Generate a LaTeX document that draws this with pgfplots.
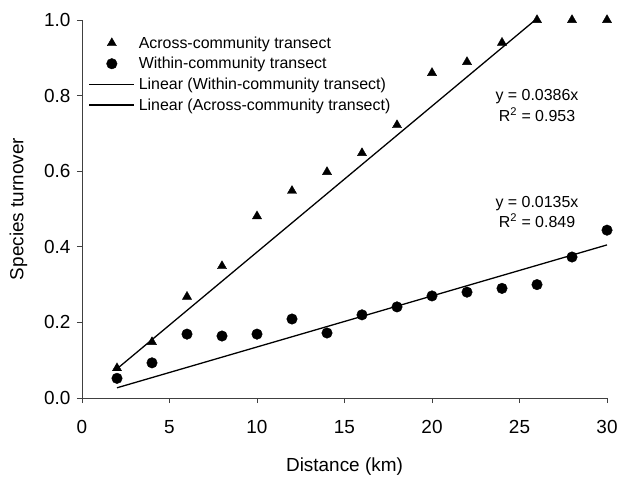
\documentclass[border=0pt]{standalone}
\usepackage{pgfplots}
\pgfplotsset{compat=1.18}
\usepackage{fontspec}
\setmainfont{Liberation Sans}
\begin{document}
\begin{tikzpicture}
\path[use as bounding box] (-82bp,-86bp) rectangle (537bp,398bp);
\begin{axis}[
  at={(0,0)}, anchor=origin,
  scale only axis, width=525bp, height=378bp,
  xmin=0, xmax=30, ymin=0, ymax=1.0,
  axis x line*=bottom, axis y line*=left,
  axis line style={-, line width=0.7pt, black!75},
  tick style={black!75, line width=0.7pt},
  tick align=outside, major tick length=5bp,
  xtick={0,5,...,30}, ytick={0,0.2,...,1.0},
  yticklabel style={xshift=-3bp},
  y tick label style={/pgf/number format/.cd, fixed, fixed zerofill, precision=1},
  /pgf/number format/assume math mode=true,
  ticklabel style={font=\fontsize{19}{21}\selectfont},
  xticklabel style={yshift=-14bp},
  xlabel={Distance (km)}, ylabel={Species turnover},
  label style={font=\fontsize{19}{21}\selectfont},
  xlabel style={yshift=-17bp},
  ylabel style={yshift=10bp},
  clip=false,
  legend cell align=left,
  legend image code/.code={\draw[mark repeat=2,mark phase=2,#1] plot coordinates {(0bp,0bp) (22.5bp,0bp) (45bp,0bp)};},
  legend style={at={(axis cs:0.2,0.972)}, anchor=north west, draw=none, fill=none,
    font=\fontsize{16}{16}\selectfont, row sep=0pt, nodes={inner sep=3.8bp}},
]
\addplot[only marks, mark=triangle*, mark size=5.3pt, black] coordinates {
(2,0.079) (4,0.148) (6,0.268) (8,0.349) (10,0.481) (12,0.548) (14,0.598) (16,0.648)
(18,0.722) (20,0.86) (22,0.889) (24,0.94) (26,1.0) (28,1.0) (30,1.0)};
\addlegendentry{Across-community transect}
\addplot[only marks, mark=*, mark size=5.3pt, black] coordinates {
(2,0.052) (4,0.093) (6,0.169) (8,0.164) (10,0.169) (12,0.209) (14,0.172) (16,0.22)
(18,0.241) (20,0.27) (22,0.28) (24,0.29) (26,0.30) (28,0.373) (30,0.444)};
\addlegendentry{Within-community transect}
\addplot[black, line width=1.3pt, no marks] coordinates {(2,0.027) (30,0.405)};
\addlegendentry{Linear (Within-community transect)}
\addplot[black, line width=1.3pt, no marks] coordinates {(2,0.0772) (25.9,1.0)};
\addlegendentry{Linear (Across-community transect)}
\node[font=\fontsize{16}{21}\selectfont, align=center] at (axis cs:26.0,0.774) {y = 0.0386x\\R\textsuperscript{2} = 0.953};
\node[font=\fontsize{16}{21}\selectfont, align=center] at (axis cs:26.0,0.492) {y = 0.0135x\\R\textsuperscript{2} = 0.849};
\end{axis}
\end{tikzpicture}
\end{document}
